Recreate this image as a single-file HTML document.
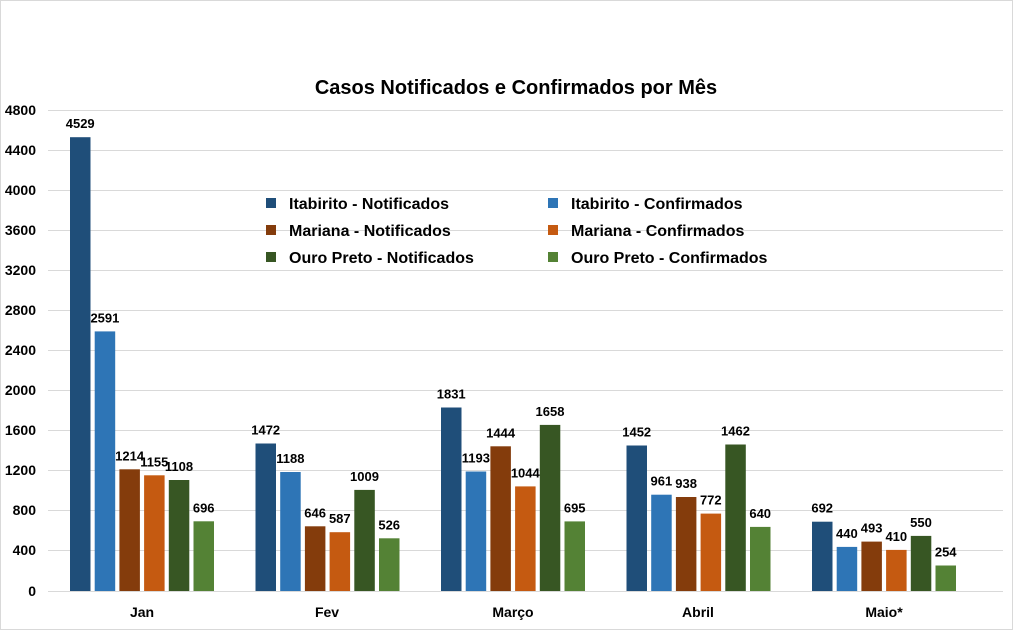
<!DOCTYPE html>
<html><head><meta charset="utf-8"><style>body{margin:0;background:#fff}svg{display:block}</style></head>
<body>
<svg width="1013" height="630" xmlns="http://www.w3.org/2000/svg" font-family="Liberation Sans, Arial, sans-serif">
<rect x="0.5" y="0.5" width="1012" height="629" fill="#fff" stroke="#d9d9d9"/>
<text x="516" y="94" text-anchor="middle" font-size="20" font-weight="bold" fill="#000">Casos Notificados e Confirmados por Mês</text>
<g stroke="#d9d9d9" stroke-width="1">
<line x1="48" x2="1003" y1="110.5" y2="110.5"/><line x1="48" x2="1003" y1="150.5" y2="150.5"/><line x1="48" x2="1003" y1="190.5" y2="190.5"/><line x1="48" x2="1003" y1="230.5" y2="230.5"/><line x1="48" x2="1003" y1="270.5" y2="270.5"/><line x1="48" x2="1003" y1="310.5" y2="310.5"/><line x1="48" x2="1003" y1="350.5" y2="350.5"/><line x1="48" x2="1003" y1="390.5" y2="390.5"/><line x1="48" x2="1003" y1="430.5" y2="430.5"/><line x1="48" x2="1003" y1="470.5" y2="470.5"/><line x1="48" x2="1003" y1="510.5" y2="510.5"/><line x1="48" x2="1003" y1="550.5" y2="550.5"/><line x1="48" x2="1003" y1="591.5" y2="591.5"/>
</g>
<g font-size="14" font-weight="bold" fill="#000" text-anchor="end">
<text x="36" y="115">4800</text><text x="36" y="155">4400</text><text x="36" y="195">4000</text><text x="36" y="235">3600</text><text x="36" y="275">3200</text><text x="36" y="315">2800</text><text x="36" y="355">2400</text><text x="36" y="395">2000</text><text x="36" y="435">1600</text><text x="36" y="475">1200</text><text x="36" y="515">800</text><text x="36" y="555">400</text><text x="36" y="596">0</text>
</g>
<g font-size="13" font-weight="bold" fill="#000" text-anchor="middle">
<!-- Jan -->
<rect x="70" y="137.2" width="20.5" height="453.8" fill="#1f4e79"/><text x="80.2" y="128.2">4529</text>
<rect x="94.7" y="331.4" width="20.5" height="259.6" fill="#2e75b6"/><text x="104.9" y="322.4">2591</text>
<rect x="119.4" y="469.3" width="20.5" height="121.7" fill="#843c0c"/><text x="129.6" y="460.3">1214</text>
<rect x="144.1" y="475.3" width="20.5" height="115.7" fill="#c55a11"/><text x="154.3" y="466.3">1155</text>
<rect x="168.8" y="480" width="20.5" height="111" fill="#375623"/><text x="179" y="471">1108</text>
<rect x="193.5" y="521.3" width="20.5" height="69.7" fill="#548235"/><text x="203.7" y="512.3">696</text>
<!-- Fev -->
<rect x="255.5" y="443.5" width="20.5" height="147.5" fill="#1f4e79"/><text x="265.7" y="434.5">1472</text>
<rect x="280.2" y="472" width="20.5" height="119" fill="#2e75b6"/><text x="290.4" y="463">1188</text>
<rect x="304.9" y="526.3" width="20.5" height="64.7" fill="#843c0c"/><text x="315.1" y="517.3">646</text>
<rect x="329.6" y="532.2" width="20.5" height="58.8" fill="#c55a11"/><text x="339.8" y="523.2">587</text>
<rect x="354.3" y="489.9" width="20.5" height="101.1" fill="#375623"/><text x="364.5" y="480.9">1009</text>
<rect x="379" y="538.3" width="20.5" height="52.7" fill="#548235"/><text x="389.2" y="529.3">526</text>
<!-- Marco -->
<rect x="441" y="407.5" width="20.5" height="183.5" fill="#1f4e79"/><text x="451.2" y="398.5">1831</text>
<rect x="465.7" y="471.5" width="20.5" height="119.5" fill="#2e75b6"/><text x="475.9" y="462.5">1193</text>
<rect x="490.4" y="446.3" width="20.5" height="144.7" fill="#843c0c"/><text x="500.6" y="437.3">1444</text>
<rect x="515.1" y="486.4" width="20.5" height="104.6" fill="#c55a11"/><text x="525.3" y="477.4">1044</text>
<rect x="539.8" y="424.9" width="20.5" height="166.1" fill="#375623"/><text x="550" y="415.9">1658</text>
<rect x="564.5" y="521.4" width="20.5" height="69.6" fill="#548235"/><text x="574.7" y="512.4">695</text>
<!-- Abril -->
<rect x="626.5" y="445.5" width="20.5" height="145.5" fill="#1f4e79"/><text x="636.7" y="436.5">1452</text>
<rect x="651.2" y="494.7" width="20.5" height="96.3" fill="#2e75b6"/><text x="661.4" y="485.7">961</text>
<rect x="675.9" y="497" width="20.5" height="94" fill="#843c0c"/><text x="686.1" y="488">938</text>
<rect x="700.6" y="513.6" width="20.5" height="77.4" fill="#c55a11"/><text x="710.8" y="504.6">772</text>
<rect x="725.3" y="444.5" width="20.5" height="146.5" fill="#375623"/><text x="735.5" y="435.5">1462</text>
<rect x="750" y="526.9" width="20.5" height="64.1" fill="#548235"/><text x="760.2" y="517.9">640</text>
<!-- Maio -->
<rect x="812" y="521.7" width="20.5" height="69.3" fill="#1f4e79"/><text x="822.2" y="512.7">692</text>
<rect x="836.7" y="546.9" width="20.5" height="44.1" fill="#2e75b6"/><text x="846.9" y="537.9">440</text>
<rect x="861.4" y="541.6" width="20.5" height="49.4" fill="#843c0c"/><text x="871.6" y="532.6">493</text>
<rect x="886.1" y="549.9" width="20.5" height="41.1" fill="#c55a11"/><text x="896.3" y="540.9">410</text>
<rect x="910.8" y="535.9" width="20.5" height="55.1" fill="#375623"/><text x="921" y="526.9">550</text>
<rect x="935.5" y="565.5" width="20.5" height="25.5" fill="#548235"/><text x="945.7" y="556.5">254</text>
</g>
<g font-size="14" font-weight="bold" fill="#000" text-anchor="middle">
<text x="142" y="617">Jan</text><text x="327" y="617">Fev</text><text x="513" y="617">Março</text><text x="698" y="617">Abril</text><text x="884" y="617">Maio*</text>
</g>
<g font-size="16" font-weight="bold" fill="#000">
<rect x="266" y="198" width="10" height="10" fill="#1f4e79"/><text x="289" y="209">Itabirito - Notificados</text>
<rect x="548" y="198" width="10" height="10" fill="#2e75b6"/><text x="571" y="209">Itabirito - Confirmados</text>
<rect x="266" y="225" width="10" height="10" fill="#843c0c"/><text x="289" y="236">Mariana - Notificados</text>
<rect x="548" y="225" width="10" height="10" fill="#c55a11"/><text x="571" y="236">Mariana - Confirmados</text>
<rect x="266" y="252" width="10" height="10" fill="#375623"/><text x="289" y="263">Ouro Preto - Notificados</text>
<rect x="548" y="252" width="10" height="10" fill="#548235"/><text x="571" y="263">Ouro Preto - Confirmados</text>
</g>
</svg>
</body></html>
